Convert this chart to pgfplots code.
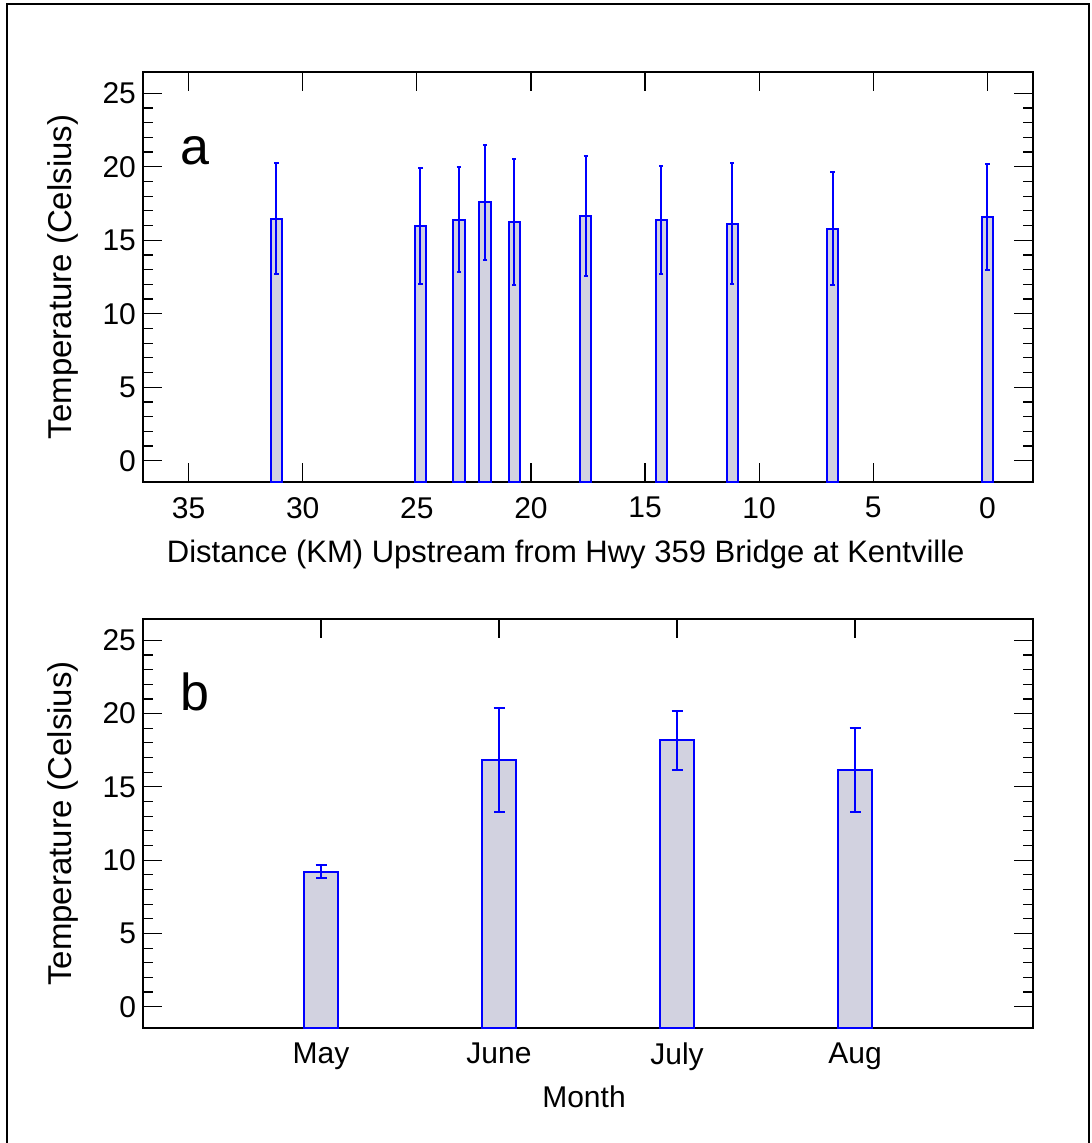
\documentclass[border=0pt]{standalone}
\usepackage{pgfplots}
\pgfplotsset{compat=1.18}
\usepackage{fontspec}
\setmainfont{Liberation Sans}
\definecolor{barfill}{RGB}{210,210,224}
\definecolor{barblue}{RGB}{0,0,255}
\newcommand{\tfont}{\fontsize{15pt}{18pt}\selectfont}
\newcommand{\lfont}{\fontsize{15pt}{18pt}\selectfont}
\newcommand{\yfont}{\fontsize{16.5pt}{19pt}\selectfont}
\begin{document}
\begin{tikzpicture}
\useasboundingbox (0,0) rectangle (545.5pt,-571.5pt);
\draw[line width=1pt] (3.5pt,-600pt) -- (3.5pt,-2pt) -- (544.5pt,-2pt) -- (544.5pt,-600pt);
\pgfplotsset{
  myaxis/.style={
    scale only axis, width=445pt, anchor=south west,
    axis line style={line width=0.7pt},
    tick style={line width=0.6pt, black},
    major tick length=9.5pt, minor tick length=5pt,
    ymin=-1.45, ymax=26.45,
    y coord trafo/.code={\pgfmathparse{##1+1.45}},
    y coord inv trafo/.code={\pgfmathparse{##1-1.45}},
    ytick={0,5,10,15,20,25}, yticklabels={0,5,10,15,20,25},
    minor y tick num=4,
    tick label style={font=\tfont},
    xticklabel style={yshift=-4pt},
    every axis y label/.style={at={([xshift=-40pt]axis description cs:0,0.5)}, rotate=90, anchor=center, font=\yfont},
    ylabel={Temperature (Celsius)},
  }
}
\begin{axis}[myaxis, at={(71.5pt,-241pt)}, height=205pt,
  x dir=reverse, xmin=-2, xmax=37,
  xtick={0,5,10,15,20,25,30,35}, xticklabels={0,5,10,15,20,25,30,35},
  every axis x label/.style={at={([yshift=-40pt]axis description cs:0.475,0)}, anchor=base, font=\fontsize{15.5pt}{18pt}\selectfont},
  xlabel={Distance (KM) Upstream from Hwy 359 Bridge at Kentville}]
\addplot[ybar, bar width=0.5, fill=barfill, draw=barblue, line width=1pt,
  error bars/.cd, y dir=both, y explicit,
  error bar style={barblue, line width=1pt},
  error mark options={barblue, line width=1pt, mark size=1.1pt, rotate=90}]
coordinates {
 (31.15,16.47) +- (0,3.79)
 (24.84,15.98) +- (0,3.93)
 (23.16,16.41) +- (0,3.59)
 (22.01,17.57) +- (0,3.89)
 (20.73,16.24) +- (0,4.30)
 (17.60,16.65) +- (0,4.10)
 (14.29,16.38) +- (0,3.67)
 (11.18,16.13) +- (0,4.13)
 (6.78,15.79) +- (0,3.85)
 (0.00,16.59) +- (0,3.59)
};
\end{axis}
\node[anchor=base west, font=\fontsize{26pt}{30pt}\selectfont, inner sep=0pt] at (90pt,-82.5pt) {a};
\begin{axis}[myaxis, at={(71.5pt,-514pt)}, height=204.5pt,
  xmin=0, xmax=5,
  xtick={1,2,3,4}, xticklabels={May,June,July,Aug},
  every axis x label/.style={at={([yshift=-39.5pt]axis description cs:0.4955,0)}, anchor=base, font=\lfont},
  xlabel={Month}]
\addplot[ybar, bar width=0.195, fill=barfill, draw=barblue, line width=1pt,
  error bars/.cd, y dir=both, y explicit,
  error bar style={barblue, line width=1pt},
  error mark options={barblue, line width=1pt, mark size=2.75pt, rotate=90}]
coordinates {
 (1,9.21) +- (0,0.45)
 (2,16.85) +- (0,3.56)
 (3,18.18) +- (0,2.00)
 (4,16.15) +- (0,2.87)
};
\end{axis}
\node[anchor=base west, font=\fontsize{26pt}{30pt}\selectfont, inner sep=0pt] at (90pt,-355pt) {b};
\end{tikzpicture}
\end{document}
